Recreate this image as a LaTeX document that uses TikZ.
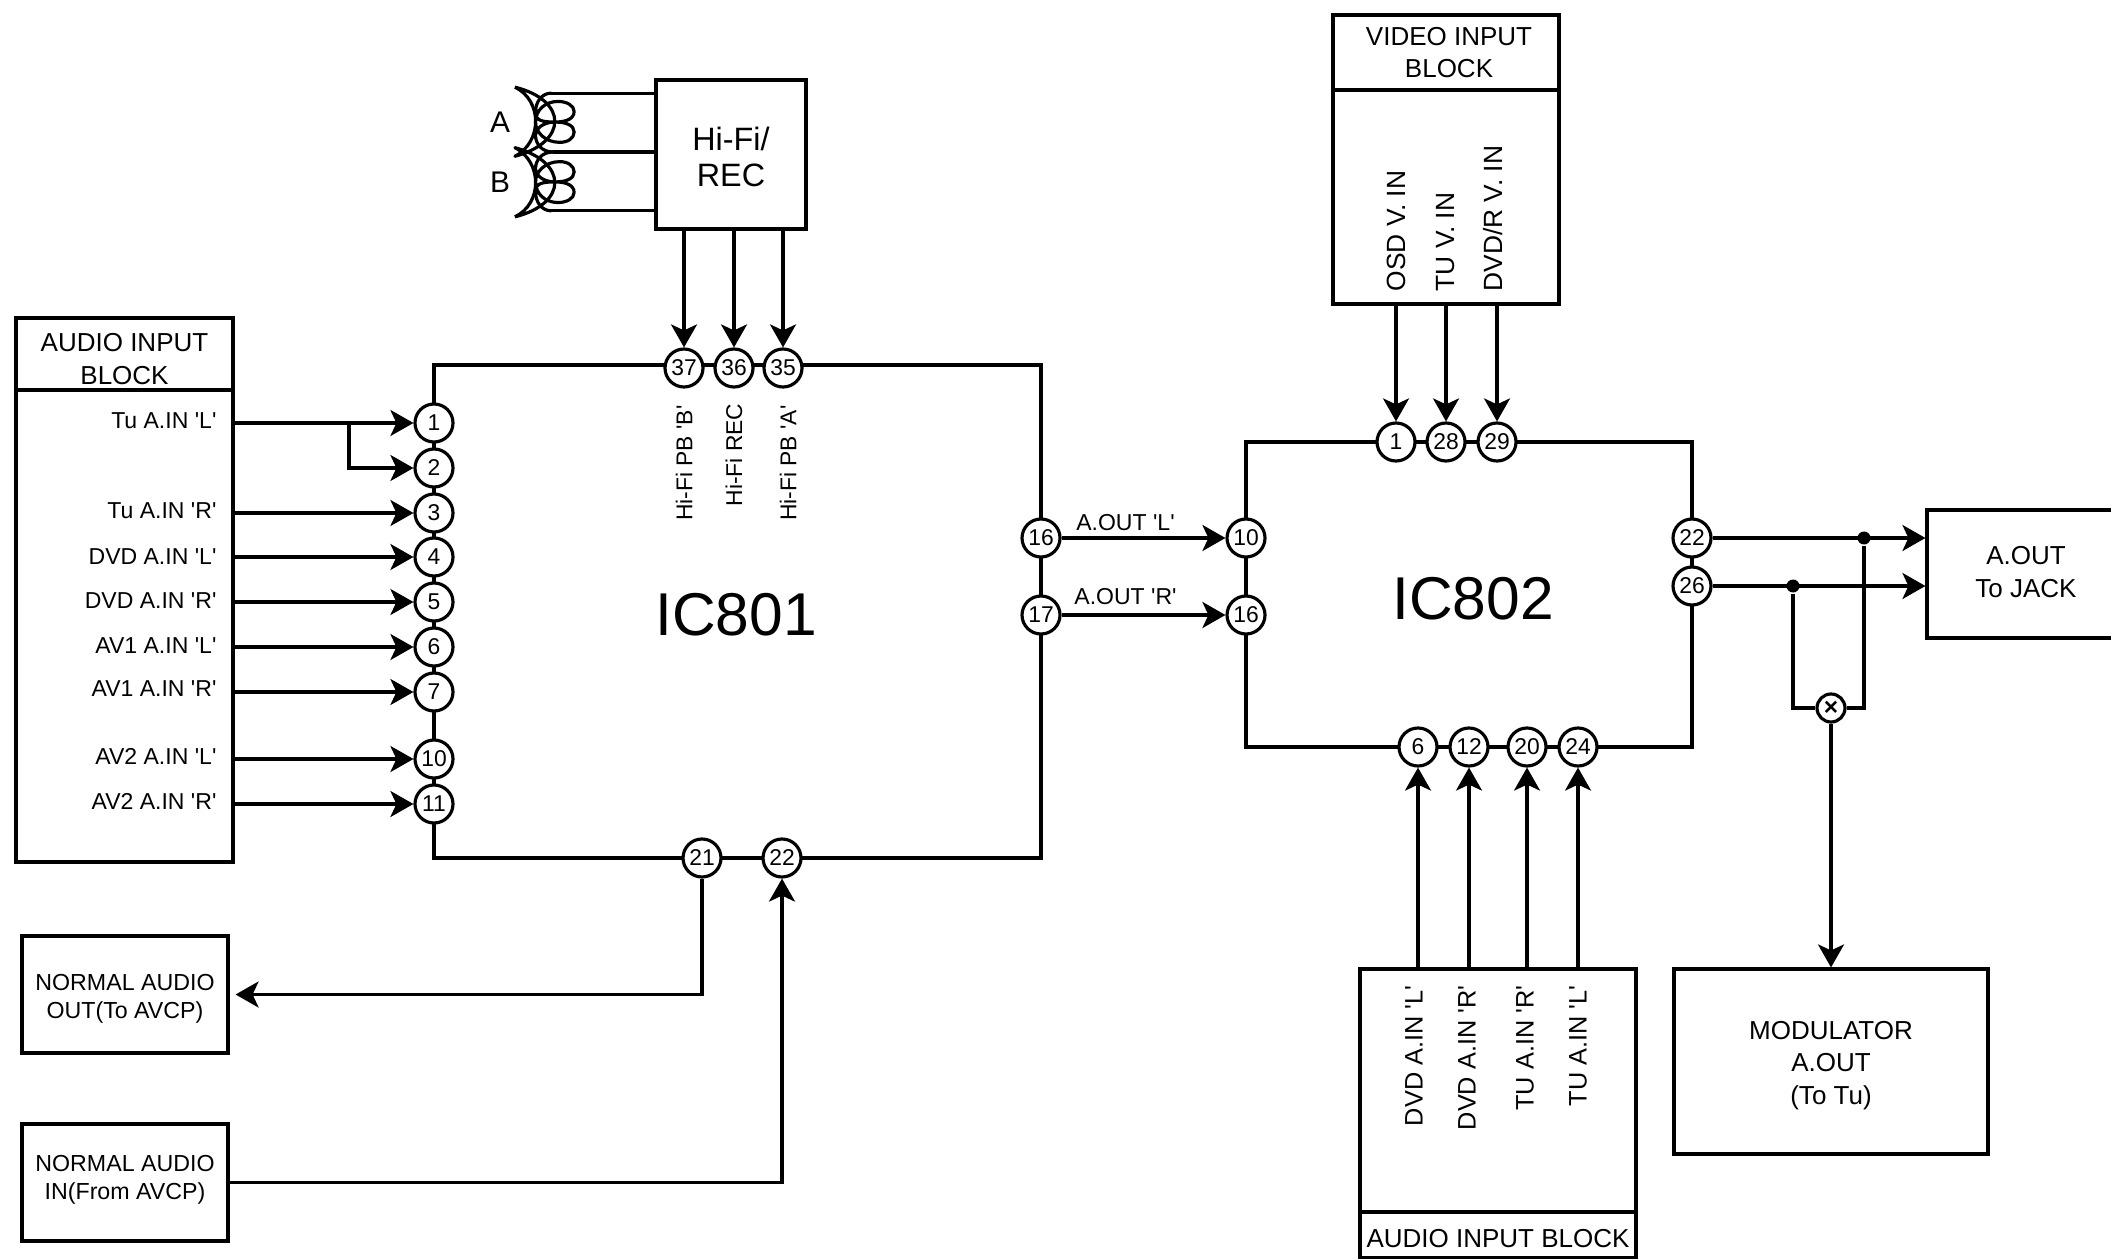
\documentclass[tikz,border=0pt]{standalone}
\usepackage{fontspec}
\setmainfont{Liberation Sans}[Ligatures=TeXOff]
\usepackage{xcolor}
\usetikzlibrary{arrows.meta,calc}

\newcommand{\pinfont}{\fontsize{6.5}{7.5}\selectfont}
\newcommand{\labelfont}{\fontsize{6.55}{7.5}\selectfont}
\newcommand{\sidefont}{\fontsize{6.5}{8}\selectfont}
\newcommand{\normfont}{\fontsize{6.6}{8}\selectfont}
\newcommand{\blockfont}{\fontsize{7.4}{9.2}\selectfont}
\newcommand{\chipfont}{\fontsize{17.2}{20}\selectfont}

\begin{document}
\begin{tikzpicture}[
  x=1cm,
  y=1cm,
  line width=0.9pt,
  box/.style={draw, rectangle, align=center, inner sep=0pt, font=\blockfont},
  title/.style={align=center, inner sep=0pt, font=\blockfont},
  chip/.style={draw, rectangle, inner sep=0pt},
  pin/.style={draw, circle, fill=white, inner sep=0pt, minimum size=0.38cm, font=\pinfont},
  dot/.style={circle, fill=black, inner sep=0pt, minimum size=0.13cm},
  flow/.style={-{Stealth[length=2.3mm,width=2.6mm,inset=0.6mm]}},
  sidelabel/.style={anchor=east, inner sep=0pt, font=\labelfont},
  uplabel/.style={rotate=90, inner sep=0pt}
]
\useasboundingbox (0,0) rectangle (21.11,12.58);

% input blocks
\node[box, minimum width=2.17cm, minimum height=4.72cm] (audioin) at (1.245,6.32) {};
\node[box, minimum width=2.17cm, minimum height=0.72cm] (audiohead) at (1.245,9.04) {};
\node[title] (audiotitle) at (1.245,8.99) {AUDIO INPUT\\BLOCK};
\node[box, minimum width=2.26cm, minimum height=2.14cm] (videoin) at (14.46,10.61) {};
\node[box, minimum width=2.26cm, minimum height=0.75cm] (videohead) at (14.46,12.055) {};
\node[title] (videotitle) at (14.49,12.055) {VIDEO INPUT\\BLOCK};
\node[box, minimum width=2.76cm, minimum height=2.43cm] (audiolow) at (14.98,1.675) {};
\node[box, minimum width=2.76cm, minimum height=0.46cm] (audiofoot) at (14.98,0.23) {};
\node[title] (audiofoottitle) at (14.98,0.19) {AUDIO INPUT BLOCK};

% other blocks
\node[box, minimum width=1.50cm, minimum height=1.49cm] (hifi) at (7.31,11.035) {};
\node[title, font=\fontsize{9.2}{10.3}\selectfont] (hifititle) at (7.31,11.01) {Hi-Fi/\\REC};
\node[box, minimum width=1.98cm, minimum height=1.28cm] (aout) at (20.26,6.84) {};
\node[title] (aouttitle) at (20.26,6.86) {A.OUT\\To JACK};
\node[box, minimum width=3.14cm, minimum height=1.85cm] (modulator) at (18.31,1.965) {};
\node[title] (modtitle) at (18.31,1.925) {MODULATOR\\A.OUT\\(To Tu)};
\node[box, minimum width=2.06cm, minimum height=1.17cm] (normout) at (1.25,2.635) {};
\node[title, font=\normfont] (normouttitle) at (1.25,2.595) {NORMAL AUDIO\\OUT(To AVCP)};
\node[box, minimum width=2.06cm, minimum height=1.17cm] (normin) at (1.25,0.755) {};
\node[title, font=\normfont] (normintitle) at (1.25,0.78) {NORMAL AUDIO\\IN(From AVCP)};

% the two ICs
\node[chip, minimum width=6.07cm, minimum height=4.93cm] (icone) at (7.375,6.465) {};
\node[font=\chipfont] (iconetext) at (7.36,6.43) {IC801};
\node[chip, minimum width=4.46cm, minimum height=3.05cm] (ictwo) at (14.69,6.635) {};
\node[font=\chipfont] (ictwotext) at (14.73,6.59) {IC802};

% pins
\foreach \n/\x/\y in {1/4.34/8.35, 2/4.34/7.90, 3/4.34/7.45, 4/4.34/7.01, 5/4.34/6.56,
    6/4.34/6.11, 7/4.34/5.66, 10/4.34/4.99, 11/4.34/4.54,
    37/6.84/8.90, 36/7.34/8.90, 35/7.83/8.90, 21/7.02/4.00, 22/7.82/4.00,
    16/10.41/7.20, 17/10.41/6.43}
  \node[pin] (a\n) at (\x,\y) {\n};
\foreach \n/\x/\y in {1/13.96/8.16, 28/14.46/8.16, 29/14.97/8.16,
    10/12.46/7.20, 16/12.46/6.43,
    6/14.18/5.11, 12/14.69/5.11, 20/15.27/5.11, 24/15.78/5.11,
    22/16.92/7.20, 26/16.92/6.72}
  \node[pin] (b\n) at (\x,\y) {\n};

% audio inputs on IC801
\foreach \i/\txt/\y in {1/Tu A.IN 'L'/8.37, 3/Tu A.IN 'R'/7.47, 4/DVD A.IN 'L'/7.01,
    5/DVD A.IN 'R'/6.57, 6/AV1 A.IN 'L'/6.12, 7/AV1 A.IN 'R'/5.69,
    10/AV2 A.IN 'L'/5.02, 11/AV2 A.IN 'R'/4.57} {
  \node[sidelabel] (lab\i) at (2.18,\y) {\txt};
  \draw[flow] (audioin.east |- a\i) -- (a\i.west);
}
\coordinate (split) at (3.49,8.35);
\draw[flow] (split) |- (a2.west);

% Hi-Fi heads
\foreach \s/\w in {1/A,-1/B} {
  \begin{scope}[shift={(4.70,11.06)}, x=0.00333cm, y=0.00333cm, yscale=\s]
    \draw[line join=round] (135,195) .. controls (295,155) and (295,30) .. (135,-13)
      .. controls (218,30) and (218,155) .. (135,195);
    \coordinate (coiltop\w) at (245,177);
    \coordinate (coilmid\w) at (250,0);
    \draw (coiltop\w) .. controls (215,177) and (197,150) .. (197,120)
      .. controls (197,95) and (215,90) .. (255,90)
      .. controls (290,90) and (313,100) .. (313,122)
      .. controls (313,140) and (290,152) .. (265,152)
      .. controls (225,152) and (197,125) .. (197,90)
      .. controls (197,60) and (225,29) .. (270,29)
      .. controls (295,29) and (313,42) .. (313,60)
      .. controls (313,80) and (290,90) .. (255,90)
      .. controls (220,90) and (197,70) .. (197,50)
      .. controls (197,25) and (215,0) .. (coilmid\w);
  \end{scope}
  \draw (coiltop\w) -- (coiltop\w -| hifi.west);
  \draw (coilmid\w) -- (coilmid\w -| hifi.west);
}
\node[font=\fontsize{8.5}{10}\selectfont] (heada) at (5.00,11.36) {A};
\node[font=\fontsize{8.5}{10}\selectfont] (headb) at (5.00,10.76) {B};

\foreach \n in {37,36,35}
  \draw[flow] (hifi.south -| a\n) -- (a\n.north);
\node[uplabel, anchor=east, font=\sidefont] (pbb) at (6.84,8.54) {Hi-Fi PB 'B'};
\node[uplabel, anchor=east, font=\sidefont] (rec) at (7.34,8.56) {Hi-Fi REC};
\node[uplabel, anchor=east, font=\sidefont] (pba) at (7.88,8.54) {Hi-Fi PB 'A'};

% normal audio
\draw[flow, shorten >=0.6mm] (a21.south) |- (normout.east);
\draw[flow] (normin.east) -| (a22.south);

% between the ICs
\draw[flow] (a16.east) -- node[pos=0.39, above, inner sep=1.7pt, font=\labelfont] {A.OUT 'L'} (b10.west);
\draw[flow] (a17.east) -- node[pos=0.39, above, inner sep=2.6pt, font=\labelfont] {A.OUT 'R'} (b16.west);

% video inputs
\foreach \n in {1,28,29}
  \draw[flow] (videoin.south -| b\n) -- (b\n.north);
\node[uplabel, anchor=west, font=\fontsize{7.5}{9}\selectfont] (osd) at (13.96,9.65) {OSD V. IN};
\node[uplabel, anchor=west, font=\fontsize{7.5}{9}\selectfont] (tuv) at (14.46,9.65) {TU V. IN};
\node[uplabel, anchor=west, font=\fontsize{7.5}{9}\selectfont] (dvdr) at (14.93,9.65) {DVD/R V. IN};

% audio inputs on IC802
\foreach \n in {6,12,20,24}
  \draw[flow] (audiolow.north -| b\n) -- (b\n.south);
\node[uplabel, anchor=east, font=\fontsize{7.2}{9}\selectfont] (dvdl) at (14.14,2.74) {DVD A.IN 'L'};
\node[uplabel, anchor=east, font=\fontsize{7.2}{9}\selectfont] (dvdr2) at (14.67,2.74) {DVD A.IN 'R'};
\node[uplabel, anchor=east, font=\fontsize{7.2}{9}\selectfont] (tur) at (15.25,2.74) {TU A.IN 'R'};
\node[uplabel, anchor=east, font=\fontsize{7.2}{9}\selectfont] (tul) at (15.78,2.74) {TU A.IN 'L'};

% outputs
\node[dot] (jone) at (18.64,7.20) {};
\node[dot] (jtwo) at (17.93,6.72) {};
\node[pin, minimum size=0.28cm, font=\fontsize{7}{8}\bfseries] (mix) at (18.31,5.50) {×};
\draw[flow] (b22.east) -- (aout.west |- b22);
\draw[flow] (b26.east) -- (aout.west |- b26);
\draw (jone) |- (mix.east);
\draw (jtwo) |- (mix.west);
\draw[flow] (mix.south) -- (modulator.north);

\end{tikzpicture}
\end{document}
